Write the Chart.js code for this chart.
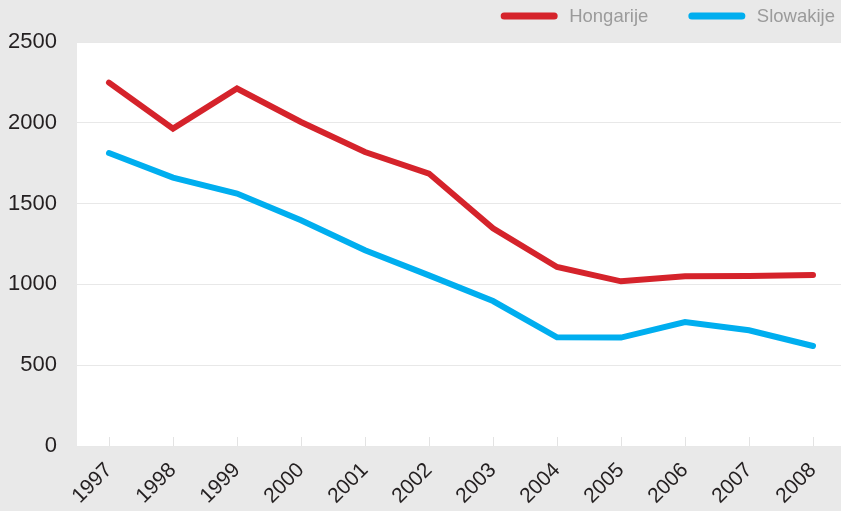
<!DOCTYPE html>
<html>
<head>
<meta charset="utf-8">
<script src="https://cdn.jsdelivr.net/npm/chart.js@4.4.0/dist/chart.umd.min.js"></script>
<style>
  html, body { margin: 0; padding: 0; overflow: hidden; background: #e9e9e9; }
  canvas { display: block; }
</style>
</head>
<body>
<canvas id="chart" width="845" height="511"></canvas>
<script>
const years = ["1997", "1998", "1999", "2000", "2001", "2002", "2003", "2004", "2005", "2006", "2007", "2008"];
const hongarije = [2249, 1964, 2212, 2005, 1819, 1686, 1347, 1108, 1019, 1050, 1052, 1058];
const slowakije = [1813, 1661, 1562, 1397, 1211, 1056, 897, 673, 671, 767, 716, 619];
const yTicks = [0, 500, 1000, 1500, 2000, 2500];

const FONT = "'Liberation Sans', Arial, sans-serif";

// grey page, white plot area
const plotBackground = {
  id: "plotBackground",
  beforeDraw(chart) {
    const { ctx, chartArea } = chart;
    ctx.save();
    ctx.fillStyle = "#e9e9e9";
    ctx.fillRect(0, 0, chart.width, chart.height);
    ctx.fillStyle = "#ffffff";
    ctx.fillRect(chartArea.left, chartArea.top, chartArea.right - chartArea.left, chartArea.bottom - chartArea.top);
    ctx.restore();
  }
};

// legend in the top band, right aligned
const topLegend = {
  id: "topLegend",
  afterDraw(chart) {
    const ctx = chart.ctx;
    const y = 16;
    let x = 835;
    ctx.save();
    ctx.font = "18.5px " + FONT;
    ctx.textBaseline = "middle";
    ctx.textAlign = "right";
    chart.data.datasets.slice().reverse().forEach((ds) => {
      const w = ctx.measureText(ds.label).width;
      ctx.fillStyle = "#9b9b9b";
      ctx.fillText(ds.label, x, y + 1);
      const lineEnd = x - w - 15;
      const lineStart = lineEnd - 50;
      ctx.strokeStyle = ds.borderColor;
      ctx.lineWidth = 7;
      ctx.lineCap = "round";
      ctx.beginPath();
      ctx.moveTo(lineStart, y);
      ctx.lineTo(lineEnd, y);
      ctx.stroke();
      x = lineStart - 3.5 - 40;
    });
    ctx.restore();
  }
};

new Chart(document.getElementById("chart"), {
  type: "line",
  data: {
    labels: years,
    datasets: [
      {
        label: "Hongarije",
        data: hongarije,
        borderColor: "#d5232b",
        borderWidth: 6,
        borderCapStyle: "round",
        borderJoinStyle: "miter",
        pointRadius: 0,
        tension: 0,
      },
      {
        label: "Slowakije",
        data: slowakije,
        borderColor: "#00aeef",
        borderWidth: 6,
        borderCapStyle: "round",
        borderJoinStyle: "miter",
        pointRadius: 0,
        tension: 0,
      },
    ],
  },
  options: {
    responsive: false,
    animation: false,
    layout: { padding: { top: 42, right: 0, bottom: 0, left: 0 } },
    plugins: {
      legend: { display: false },
      tooltip: { enabled: false },
    },
    scales: {
      x: {
        offset: true,
        grid: { drawOnChartArea: false, color: "#e3e3e3", tickLength: -9 },
        border: { display: false },
        ticks: {
          autoSkip: false,
          minRotation: 45,
          maxRotation: 45,
          padding: 21,
          color: "#231f20",
          font: { family: FONT, size: 21 },
        },
        afterFit(scale) {
          scale.height = 65;
          scale.paddingLeft = 0;
          scale.paddingRight = 0;
        },
      },
      y: {
        min: 0,
        max: 2500,
        afterBuildTicks(scale) { scale.ticks = yTicks.map((v) => ({ value: v })); },
        grid: { color: "#e8e8e8", drawTicks: false },
        border: { display: false },
        ticks: {
          padding: 20,
          color: "#231f20",
          font: { family: FONT, size: 22 },
          callback: (v) => String(v),
        },
        afterFit(scale) { scale.width = 77; },
      },
    },
  },
  plugins: [plotBackground, topLegend],
});
</script>
</body>
</html>
